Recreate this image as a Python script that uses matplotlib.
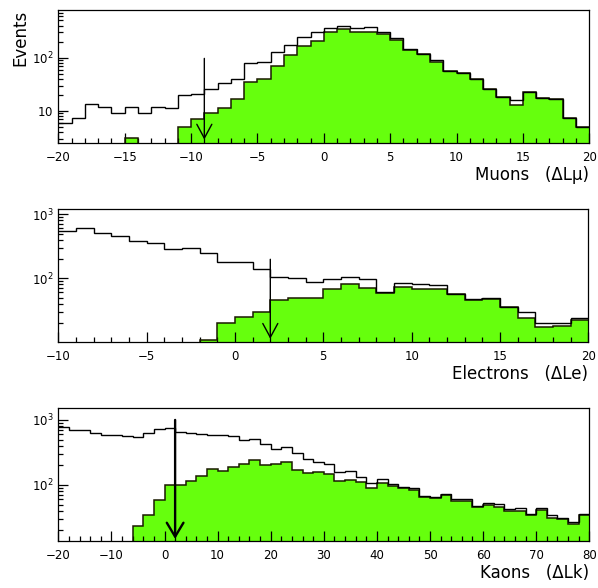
import matplotlib
matplotlib.use('Agg')
import matplotlib.pyplot as plt
import numpy as np
from matplotlib.ticker import MultipleLocator, NullFormatter

plt.rcParams['font.family'] = ['DejaVu Sans']
plt.rcParams['mathtext.fontset'] = 'dejavusans'

# ---------------- data ----------------
# Muons: bins of width 1 from -20 to 20
mu_lo, mu_hi, mu_w = -20, 20, 1
mu_all = [6.0, 7.3, 13.3, 12, 9, 12, 9, 12, 11.2, 20,
          21, 25.5, 33, 40, 80, 84, 130, 173, 244, 299,
          355, 398, 355, 380, 299, 230, 143, 117, 90.6, 57,
          51, 40, 26, 18.5, 16, 23, 17.5, 16.6, 7.3, 5.1]
mu_sel = [0, 0, 0, 0, 0, 3.07, 0, 0, 0, 5.1,
          7.1, 9, 11.2, 16.6, 35.5, 40, 70, 112, 166, 209,
          299, 340, 299, 308, 277, 215, 140, 117, 83, 57,
          51, 40, 26, 18.5, 13, 23, 17.5, 16.6, 7.3, 5.1]
mu_cut = -9

# Electrons: bins of width 1 from -10 to 20
el_lo, el_hi, el_w = -10, 20, 1
el_all = [548, 604, 516, 458, 383, 352, 284, 294, 246, 178,
          182, 140, 106, 102, 88, 97.5, 106, 96, 62, 85,
          80.6, 78.6, 56.9, 46.9, 50, 35.2, 30, 20.2, 20.2, 23.7]
el_sel = [0, 0, 0, 0, 0, 0, 0, 0, 10.9, 19.8,
          25, 30, 45.8, 48.7, 49.8, 67, 80.6, 71, 58, 74,
          67, 67, 56, 45.8, 46.9, 35.2, 24.3, 17.1, 18, 21.9]
el_cut = 2

# Kaons: bins of width 2 from -20 to 80
ka_lo, ka_hi, ka_w = -20, 80, 2
ka_all = [790, 702, 702, 624, 588, 588, 567, 553, 638, 727,
          745, 646, 630, 610, 595, 580, 565, 500, 510, 427,
          358, 389, 305, 248, 228, 210, 160, 166, 134, 108,
          122, 104, 92, 89, 68, 64.5, 72.8, 60.9, 60.9, 48,
          53.5, 51, 42.3, 44.8, 35.8, 43.6, 34.5, 30.7, 27.3, 36.2]
ka_sel = [0, 0, 0, 0, 0, 0, 0, 23, 34.5, 58,
          100, 100, 116, 138, 176, 165, 189, 209, 242, 200,
          212, 223, 170, 151, 160, 148, 116, 119, 110, 91,
          108, 96.5, 89, 83.8, 66, 63.8, 70, 56.8, 56.8, 45.4,
          49.2, 46.4, 40.3, 40.3, 34.5, 41.3, 31.4, 30, 24.8, 34.5]
ka_cut = 2

GREEN = '#66ff0d'
W, H = 598, 588

fig = plt.figure(figsize=(W / 100, H / 100), dpi=100)


def make_axes(l, t, r, b):
    return fig.add_axes([l / W, 1 - b / H, (r - l) / W, (b - t) / H])


panels = [
    dict(box=(58.3, 10, 589.3, 142.7), lo=mu_lo, hi=mu_hi, w=mu_w, all=mu_all, sel=mu_sel,
         ylim=(2.54, 785), yt=[10, 100], ytl=['$10\\;\\;$', '$10^{2}$'], major=5, minor=1,
         cut=mu_cut, atop=97, abot=2.9, alw=1.0, hw=0.27, hl=0.5, label='Muons   (ΔLμ)'),
    dict(box=(58.3, 209, 588.3, 341.7), lo=el_lo, hi=el_hi, w=el_w, all=el_all, sel=el_sel,
         ylim=(10.2, 1210), yt=[100, 1000], ytl=['$10^{2}$', '$10^{3}$'], major=5, minor=1,
         cut=el_cut, atop=198, abot=11.3, alw=1.0, hw=0.27, hl=0.5, label='Electrons   (ΔLe)'),
    dict(box=(58.3, 408.3, 589.3, 540.7), lo=ka_lo, hi=ka_hi, w=ka_w, all=ka_all, sel=ka_sel,
         ylim=(13.9, 1510), yt=[100, 1000], ytl=['$10^{2}$', '$10^{3}$'], major=10, minor=2,
         cut=ka_cut, atop=1000, abot=14.8, alw=1.7, hw=0.3, hl=0.5, label='Kaons   (ΔLk)'),
]

minor_y = [k * 10.0 ** e for e in range(0, 4) for k in range(2, 10)]

for i, p in enumerate(panels):
    ax = make_axes(*p['box'])
    edges = np.arange(p['lo'], p['hi'] + p['w'] / 2, p['w'])
    sel = np.maximum(np.array(p['sel'], float), 1e-3)
    allv = np.array(p['all'], float)
    ax.set_yscale('log')
    ax.stairs(sel, edges, fill=True, baseline=1e-3, color=GREEN, lw=0, zorder=1)
    ax.stairs(sel, edges, baseline=None, color='#1a1a00', lw=1.1, zorder=2)
    ax.stairs(allv, edges, baseline=None, color='black', lw=1.0, zorder=3)
    ax.xaxis.set_major_locator(MultipleLocator(p['major']))
    ax.xaxis.set_minor_locator(MultipleLocator(p['minor']))
    ax.set_yticks(p['yt'], p['ytl'])
    ax.set_yticks(minor_y, minor=True)
    ax.yaxis.set_minor_formatter(NullFormatter())
    ax.set_xlim(p['lo'], p['hi'])
    ax.set_ylim(*p['ylim'])
    ax.tick_params(which='both', direction='in', top=False, right=False, width=0.9)
    ax.tick_params(which='major', length=7, labelsize=8.5)
    ax.tick_params(which='minor', length=3.6)
    ax.tick_params(axis='x', which='major', pad=6)
    ax.tick_params(axis='y', which='major', pad=3.5)
    for s in ax.spines.values():
        s.set_linewidth(0.9)
    # selection cut arrow
    ax.annotate('', xy=(p['cut'], p['abot']), xytext=(p['cut'], p['atop']),
                arrowprops=dict(arrowstyle='->,head_length=%g,head_width=%g' % (p['hl'], p['hw']),
                                mutation_scale=20, lw=p['alw'], color='black',
                                shrinkA=0, shrinkB=0), zorder=5)
    ax.set_xlabel(p['label'], fontsize=12, loc='right')
    ax.xaxis.set_label_coords(1.0, -0.175)
    if i == 0:
        ax.set_ylabel('Events', fontsize=12, loc='top')
        ax.yaxis.set_label_coords(-0.055, 1.0)

fig.savefig('out.png', dpi=100)
